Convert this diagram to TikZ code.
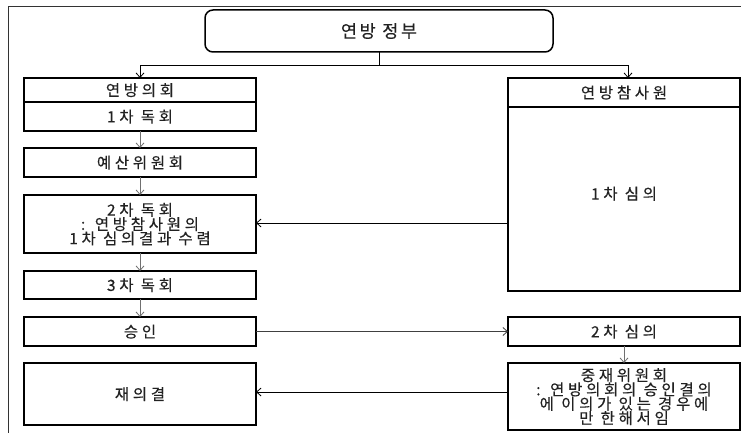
\documentclass[tikz,border=0pt]{standalone}
\usepackage{fontspec}
\newfontfamily\kr{Noto Sans CJK KR}[LetterSpace=24, FakeBold=0.3]
\newfontfamily\krtitle{Noto Sans CJK KR}[LetterSpace=15, FakeBold=0.3]
\usetikzlibrary{arrows.meta,calc}
\definecolor{ink}{HTML}{222222}
\definecolor{arrowgray}{HTML}{707070}
% one text line with a fixed 14.3pt pitch, centred on the Hangul body
\newcommand{\kline}[1]{\vrule width 0pt height 13.05pt depth 1.25pt\smash{#1}}
\tikzset{
  box/.style={draw=black, line width=1.5pt, rectangle, inner sep=0pt, outer sep=0pt,
    font=\kr\fontsize{15.5}{14.3}\selectfont, text=ink, align=center},
  govbox/.style={box, rounded corners=8pt, font=\krtitle\fontsize{17.5}{18}\selectfont},
  conn/.style={draw=black, line width=0.8pt},
  arr/.style={conn, -{Straight Barb[length=4.5pt,width=8pt,line width=0.8pt]}},
  grayarr/.style={arr, draw=arrowgray}
}
\newcommand{\boxat}[6]{% name, x1, y1, x2, y2, text
  \node[box, minimum width=#4-#2, minimum height=#5-#3] (#1) at ({(#2+#4)/2},{(#3+#5)/2}) {#6};}
\begin{document}
\begin{tikzpicture}[x=1pt, y=-1pt]
  \useasboundingbox (0,0) rectangle (741,433);
  % outer frame
  \draw[line width=0.9pt, draw=black!80] (8,433) -- (8,6) -- (741,6);

  % federal government
  \node[govbox, minimum width=348, minimum height=42] (gov) at (379,31) {연방 정부};

  % left column: Bundestag
  \boxat{parl}{24}{78}{256}{102}{\kline{연방의회}}
  \boxat{r1}{24}{102}{256}{131}{\kline{1차 독회}}
  \boxat{budget}{24}{148}{256}{177}{\kline{예산위원회}}
  \boxat{r2}{24}{195}{256}{253}{\kline{2차 독회}\\\kline{: 연방참사원의}\\\kline{1차 심의결과 수렴}}
  \boxat{r3}{24}{271}{256}{299}{\kline{3차 독회}}
  \boxat{appr}{24}{317}{256}{346}{\kline{승인}}
  \boxat{rev}{24}{363}{256}{425}{\kline{재의결}}

  % right column: Bundesrat
  \boxat{bund}{508}{78}{740}{107}{\kline{연방참사원}}
  \node[box, minimum width=232, minimum height=184, text depth=12pt] (d1) at (624,199) {\kline{1차 심의}};
  \boxat{d2}{508}{317}{740}{346}{\kline{2차 심의}}
  \boxat{med}{508}{363}{740}{430}{\kline{중재위원회}\\\kline{: 연방의회의 승인결의}\\\kline{에 이의가 있는 경우에}\\\kline{만 한해서임}}

  % government to both chambers
  \draw[conn] (gov.south) -- ++(0,13) coordinate (split);
  \draw[arr] (split) -| (parl.north);
  \draw[arr] (split) -| ([xshift=4pt]bund.north);

  % Bundestag readings
  \draw[grayarr] (r1.south) -- (budget.north);
  \draw[grayarr] (budget.south) -- (r2.north);
  \draw[grayarr] (r2.south) -- (r3.north);
  \draw[grayarr] (r3.south) -- (appr.north);

  % exchanges between the chambers
  \draw[arr] (d1.west |- {(0,223)}) -- (r2.east |- {(0,223)});
  \draw[arr, draw=black!75] (appr.east) -- (d2.west);
  \draw[grayarr] (d2.south) -- (med.north);
  \draw[arr] (med.west |- {(0,392)}) -- (rev.east |- {(0,392)});
\end{tikzpicture}
\end{document}
